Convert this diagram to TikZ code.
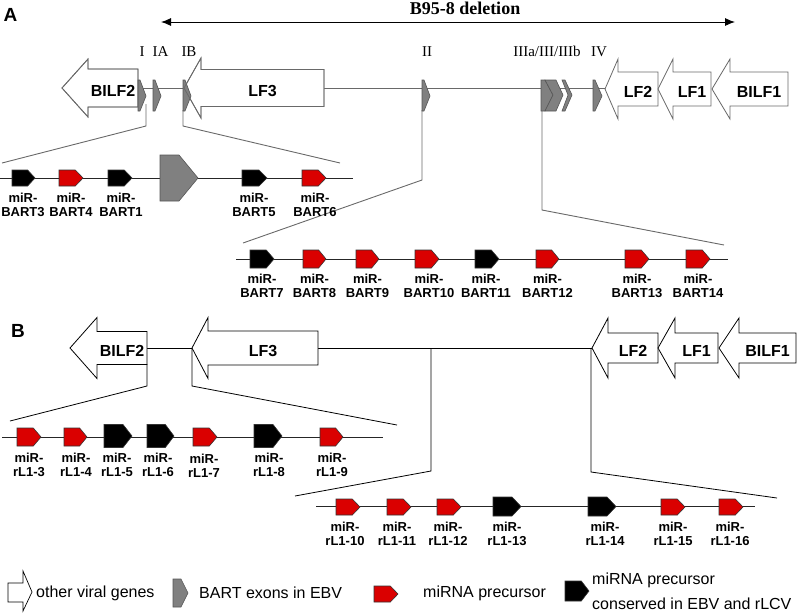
\documentclass[tikz,border=0pt]{standalone}
\usepackage{fontspec}
\setmainfont{Liberation Sans}
\newfontfamily\timesf{Liberation Serif}
\usetikzlibrary{arrows.meta}
\definecolor{mired}{RGB}{218,0,0}
\definecolor{exgray}{RGB}{128,128,128}
\definecolor{exedge}{RGB}{85,85,85}
\definecolor{agray}{RGB}{105,105,105}
\tikzset{
  genesty/.style={draw=black, fill=white, line width=0.8pt},
  genesA/.style={draw=agray, fill=white, line width=0.8pt},
  geneoutA/.style={draw=agray, line width=0.8pt},
  genelab/.style={font=\bfseries\fontsize{16}{18}\selectfont, inner sep=0pt},
  mirsty/.style={draw=black!80, line width=0.6pt},
  mlabsty/.style={font=\bfseries\fontsize{13}{14}\selectfont, align=center, inner sep=0pt},
  exonsty/.style={draw=exedge, fill=exgray, line width=0.6pt},
  aline/.style={draw=agray, line width=1pt},
  bline/.style={draw=black, line width=0.8pt},
  rowline/.style={draw=black!85, line width=0.8pt},
  exlab/.style={font=\timesf\fontsize{15}{17}\selectfont, inner sep=0pt},
  panellab/.style={font=\bfseries\fontsize{19}{21}\selectfont, inner sep=0pt},
  legtext/.style={font=\fontsize{16}{18}\selectfont, inner sep=0pt, anchor=west},
}
\newcommand{\geneL}[8][genesty]{%
  \draw[#1] (#2,#5) -- (#3,{#5-#6}) -- (#3,{#5-#7}) -- (#4,{#5-#7}) -- (#4,{#5+#7}) -- (#3,{#5+#7}) -- (#3,{#5+#6}) -- cycle;
  \node[genelab] at ({(#3+#4)/2},{#5+3}) {#8};}
\newcommand{\geneO}[7][geneoutA]{%
  \draw[#1] (#2,#5) -- (#3,{#5-#6}) -- (#3,{#5-#7}) -- (#4,{#5-#7}) -- (#4,{#5+#7}) -- (#3,{#5+#7}) -- (#3,{#5+#6}) -- cycle;}
\newcommand{\mirna}[5]{%
  \draw[mirsty, fill=#5] (#1,{#3-#4}) -- ({#2-0.32*(#2-#1)},{#3-#4}) -- (#2,#3) -- ({#2-0.32*(#2-#1)},{#3+#4}) -- (#1,{#3+#4}) -- cycle;}
\newcommand{\mlab}[4]{\node[mlabsty] (#1) at (#2,#3) {miR-\\#4};}
\newcommand{\exonA}[3]{%
  \draw[exonsty] (#1,80) -- ({#1+2},80) -- (#2,96) -- ({#1+2},111) -- (#1,111) -- cycle;
  \coordinate (#3) at (#1,111);}
\begin{document}
\begin{tikzpicture}[x=1pt,y=-1pt, line join=miter]
\useasboundingbox (0,0) rectangle (797,614);

% ================= Panel A =================
\node[panellab] (labA) at (10.5,15) {A};
\node[font=\timesf\bfseries\fontsize{18}{20}\selectfont, inner sep=0pt] (del) at (465,8) {B95-8 deletion};
\coordinate (dl) at (161,22); \coordinate (dr) at (735,22);
\draw[line width=0.9pt, {Latex[length=10pt,width=8pt]}-{Latex[length=10pt,width=8pt]}] (dl) -- (dr);

\node[exlab] (eI) at (142,51.5) {I};
\node[exlab] (eIA) at (160.5,51.5) {IA};
\node[exlab] (eIB) at (189,51.5) {IB};
\node[exlab] (eII) at (427,51.5) {II};
\node[exlab] (eIII) at (547,51.5) {IIIa/III/IIIb};
\node[exlab] (eIV) at (599,51.5) {IV};

% main line A
\coordinate (a1) at (138,88); \coordinate (a2) at (184,88);
\coordinate (a3) at (324,88); \coordinate (a4) at (605,88);
\draw[aline] (a1) -- (a2);
\draw[aline] (a3) -- (a4);

% zoom lines A
\draw[aline, line width=0.9pt] (146,104) -- (146,126) -- (2,163);
\draw[aline, line width=0.9pt] (183,110) -- (183,126) -- (340,163);
\draw[aline, line width=0.9pt] (422,110) -- (422,180) -- (243,243);
\draw[aline, line width=0.9pt] (542,110) -- (542,210) -- (724,245);

% genes A
\geneL[genesA]{62}{88}{138}{88}{29}{19}{BILF2}
\geneL[genesA]{184}{201}{324}{88}{30}{18.5}{LF3}
\geneL[genesA]{605}{618}{658}{89}{30}{17}{LF2}
\geneL[genesA]{658}{673}{711}{89}{30}{17}{LF1}
\geneL[genesA]{712}{730}{788}{89}{30}{17}{BILF1}

% exons A
\exonA{138}{146}{xI}
\exonA{153}{161}{xIA}
\exonA{183}{191}{xIB}
\exonA{422}{430}{xII}
\exonA{593}{602}{xIV}
\draw[exonsty] (541,80) -- (545,80) -- (553,95) -- (545,111) -- (541,111) -- cycle;
\draw[exonsty] (545,80) -- (556,80) -- (563,95) -- (556,111) -- (545,111) -- (553,95) -- cycle;
\draw[exonsty] (562,80) -- (565,80) -- (572,95) -- (565,111) -- (562,111) -- (568,95) -- cycle;
\geneO{184}{201}{324}{88}{30}{18.5}
\geneO{62}{88}{138}{88}{29}{19}

% row A1
\coordinate (r1a) at (0,178); \coordinate (r1b) at (353,178);
\draw[rowline] (r1a) -- (r1b);
\mirna{12}{35}{178}{8}{black}
\mirna{59}{83}{178}{8}{mired}
\mirna{108}{132}{178}{8}{black}
\draw[exonsty] (160,155) -- (179,155) -- (198,178) -- (179,201) -- (160,201) -- cycle;
\mirna{242}{267}{178}{8}{black}
\mirna{302}{326}{178}{8}{mired}
\mlab{b3}{23}{205}{BART3}
\mlab{b4}{71}{205}{BART4}
\mlab{b1}{121}{205}{BART1}
\mlab{b5}{254}{205}{BART5}
\mlab{b6}{315}{205}{BART6}

% row A2
\coordinate (r2a) at (236,259); \coordinate (r2b) at (728,259);
\draw[rowline] (r2a) -- (r2b);
\mirna{250}{274}{259}{9}{black}
\mirna{303}{326}{259}{9}{mired}
\mirna{356}{379}{259}{9}{mired}
\mirna{415}{439}{259}{9}{mired}
\mirna{475}{499}{259}{9}{black}
\mirna{536}{559}{259}{9}{mired}
\mirna{625}{649}{259}{9}{mired}
\mirna{686}{710}{259}{9}{mired}
\mlab{b7}{262}{286}{BART7}
\mlab{b8}{314.5}{286}{BART8}
\mlab{b9}{367.5}{286}{BART9}
\mlab{b10}{429}{286}{BART10}
\mlab{b11}{486}{286}{BART11}
\mlab{b12}{547.5}{286}{BART12}
\mlab{b13}{637}{286}{BART13}
\mlab{b14}{698}{286}{BART14}

% ================= Panel B =================
\node[panellab] (labB) at (18,331) {B};
\coordinate (c1) at (147,348); \coordinate (c2) at (192,348);
\coordinate (c3) at (318,348); \coordinate (c4) at (592,348);
\draw[bline] (c1) -- (c2);
\draw[bline] (c3) -- (c4);
\draw[bline] (147,364) -- (147,386) -- (10,421);
\draw[bline] (192,348) -- (192,386) -- (397,425);
\draw[bline] (431,348) -- (431,471) -- (295,496);
\draw[bline] (591,348) -- (591,472) -- (777,498);

\geneL{70}{97}{147}{348}{30.5}{16.5}{BILF2}
\geneL{192}{208}{318}{348}{30.5}{17}{LF3}
\geneL{592}{608}{658}{348}{30}{15}{LF2}
\geneL{658}{675}{718}{348}{30}{15}{LF1}
\geneL{719}{739}{796}{348}{30}{15}{BILF1}

% row B1
\coordinate (s1a) at (2,437); \coordinate (s1b) at (383,437);
\draw[rowline] (s1a) -- (s1b);
\mirna{17}{41}{437}{9}{mired}
\mirna{64}{87}{437}{9}{mired}
\mirna{104}{132}{436}{11.5}{black}
\mirna{147}{174}{436}{11.5}{black}
\mirna{193}{217}{437}{9}{mired}
\mirna{254}{282}{436}{11.5}{black}
\mirna{320}{343}{437}{9}{mired}
\mlab{r3}{29}{465}{rL1-3}
\mlab{r4}{76}{465}{rL1-4}
\mlab{r5}{117}{465}{rL1-5}
\mlab{r6}{158}{465}{rL1-6}
\mlab{r7}{204}{466}{rL1-7}
\mlab{r8}{269}{465}{rL1-8}
\mlab{r9}{332}{465}{rL1-9}

% row B2
\coordinate (s2a) at (316,506); \coordinate (s2b) at (755,506);
\draw[rowline] (s2a) -- (s2b);
\mirna{336}{360}{507}{8}{mired}
\mirna{387}{411}{507}{8}{mired}
\mirna{437}{461}{507}{8}{mired}
\mirna{493}{521}{506.5}{9.5}{black}
\mirna{588}{616}{506.5}{9.5}{black}
\mirna{661}{685}{507}{8}{mired}
\mirna{719}{743}{507}{8}{mired}
\mlab{r10}{345}{534}{rL1-10}
\mlab{r11}{397}{534}{rL1-11}
\mlab{r12}{448}{534}{rL1-12}
\mlab{r13}{507}{534}{rL1-13}
\mlab{r14}{605}{534}{rL1-14}
\mlab{r15}{673}{534}{rL1-15}
\mlab{r16}{730}{534}{rL1-16}

% ================= Legend =================
\draw[genesty, line width=0.7pt] (8,583) -- (23,583) -- (23,571) -- (32,592) -- (23,611) -- (23,602) -- (8,602) -- cycle;
\node[legtext] (l1) at (36,593) {other viral genes};
\draw[exonsty] (173,579) -- (181,579) -- (188,593) -- (181,607) -- (173,607) -- cycle;
\node[legtext] (l2) at (199,593) {BART exons in EBV};
\mirna{374}{398}{594}{8}{mired}
\node[legtext] (l3) at (423,593) {miRNA precursor};
\mirna{565}{589}{591}{10}{black}
\node[legtext] (l4) at (592,580) {miRNA precursor};
\node[legtext] (l5) at (592,604) {conserved in EBV and rLCV};
\end{tikzpicture}
\end{document}
